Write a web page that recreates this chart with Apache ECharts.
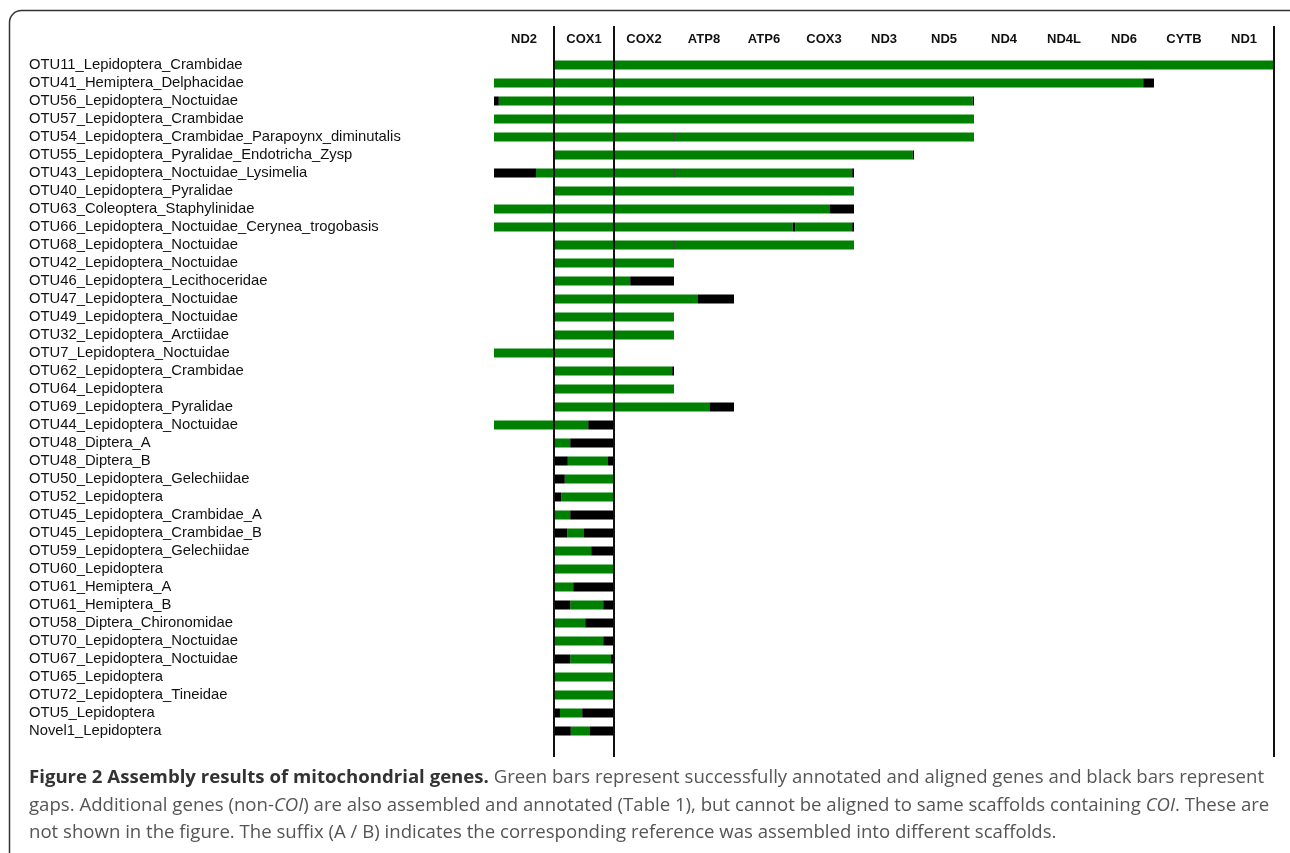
<!DOCTYPE html>
<html>
<head>
<meta charset="utf-8">
<title>Assembly results of mitochondrial genes</title>
<script src="https://cdn.jsdelivr.net/npm/echarts@6/dist/echarts.min.js"></script>
<style>
  html, body { margin: 0; padding: 0; background: #fff; }
  #main { width: 1290px; height: 853px; }
</style>
</head>
<body>
<div id="main"></div>
<script>
// gene order along the scaffold (one column each)
const genes = ['ND2', 'COX1', 'COX2', 'ATP8', 'ATP6', 'COX3', 'ND3', 'ND5', 'ND4', 'ND4L', 'ND6', 'CYTB', 'ND1'];

const otus = [
  'OTU11_Lepidoptera_Crambidae', 'OTU41_Hemiptera_Delphacidae', 'OTU56_Lepidoptera_Noctuidae',
  'OTU57_Lepidoptera_Crambidae', 'OTU54_Lepidoptera_Crambidae_Parapoynx_diminutalis',
  'OTU55_Lepidoptera_Pyralidae_Endotricha_Zysp', 'OTU43_Lepidoptera_Noctuidae_Lysimelia',
  'OTU40_Lepidoptera_Pyralidae', 'OTU63_Coleoptera_Staphylinidae',
  'OTU66_Lepidoptera_Noctuidae_Cerynea_trogobasis', 'OTU68_Lepidoptera_Noctuidae',
  'OTU42_Lepidoptera_Noctuidae', 'OTU46_Lepidoptera_Lecithoceridae', 'OTU47_Lepidoptera_Noctuidae',
  'OTU49_Lepidoptera_Noctuidae', 'OTU32_Lepidoptera_Arctiidae', 'OTU7_Lepidoptera_Noctuidae',
  'OTU62_Lepidoptera_Crambidae', 'OTU64_Lepidoptera', 'OTU69_Lepidoptera_Pyralidae',
  'OTU44_Lepidoptera_Noctuidae', 'OTU48_Diptera_A', 'OTU48_Diptera_B', 'OTU50_Lepidoptera_Gelechiidae',
  'OTU52_Lepidoptera', 'OTU45_Lepidoptera_Crambidae_A', 'OTU45_Lepidoptera_Crambidae_B',
  'OTU59_Lepidoptera_Gelechiidae', 'OTU60_Lepidoptera', 'OTU61_Hemiptera_A', 'OTU61_Hemiptera_B',
  'OTU58_Diptera_Chironomidae', 'OTU70_Lepidoptera_Noctuidae', 'OTU67_Lepidoptera_Noctuidae',
  'OTU65_Lepidoptera', 'OTU72_Lepidoptera_Tineidae', 'OTU5_Lepidoptera', 'Novel1_Lepidoptera'
];

// [row, start, end] in gene-column units (0 = start of ND2)
const aligned = [
  [0, 1, 13],
  [1, 0, 10.82],
  [2, 0.08, 7.98],
  [3, 0, 8],
  [4, 0, 2.99], [4, 3.01, 8],
  [5, 1, 6.98],
  [6, 0.7, 2.99], [6, 3.01, 5.97],
  [7, 1, 6],
  [8, 0, 5.6],
  [9, 0, 4.98], [9, 5.02, 5.97],
  [10, 1, 2.99], [10, 3.01, 6],
  [11, 1, 3],
  [12, 1, 2.27],
  [13, 1, 3.4],
  [14, 1, 3],
  [15, 1, 3],
  [16, 0, 2],
  [17, 1, 2.97],
  [18, 1, 3],
  [19, 1, 3.59],
  [20, 0, 1.57],
  [21, 1, 1.27],
  [22, 1.23, 1.9],
  [23, 1.18, 2],
  [24, 1.12, 2],
  [25, 1, 1.27],
  [26, 1.22, 1.5],
  [27, 1, 1.62],
  [28, 1, 2],
  [29, 1, 1.32],
  [30, 1.27, 1.82],
  [31, 1, 1.52],
  [32, 1, 1.82],
  [33, 1.27, 1.95],
  [34, 1, 2],
  [35, 1, 2],
  [36, 1.1, 1.47],
  [37, 1.28, 1.6]
];

const gaps = [
  [1, 10.82, 11],
  [2, 0, 0.08], [2, 7.98, 8],
  [4, 2.99, 3.01],
  [5, 6.98, 7],
  [6, 0, 0.7], [6, 2.99, 3.01], [6, 5.97, 6],
  [8, 5.6, 6],
  [9, 4.98, 5.02], [9, 5.97, 6],
  [10, 2.99, 3.01],
  [12, 2.27, 3],
  [13, 3.4, 4],
  [17, 2.97, 3],
  [19, 3.59, 4],
  [20, 1.57, 2],
  [21, 1.27, 2],
  [22, 1, 1.23], [22, 1.9, 2],
  [23, 1, 1.18],
  [24, 1, 1.12],
  [25, 1.27, 2],
  [26, 1, 1.22], [26, 1.5, 2],
  [27, 1.62, 2],
  [29, 1.32, 2],
  [30, 1, 1.27], [30, 1.82, 2],
  [31, 1.52, 2],
  [32, 1.82, 2],
  [33, 1, 1.27], [33, 1.95, 2],
  [36, 1, 1.1], [36, 1.47, 2],
  [37, 1, 1.28], [37, 1.6, 2]
];

// positions of the divider lines (COX1 borders and end of ND1)
const dividers = [1, 2, 13];

const chart = echarts.init(document.getElementById('main'));

function renderSeg(params, api) {
  const row = api.value(0);
  const p0 = api.coord([api.value(1), row]);
  const p1 = api.coord([api.value(2), row]);
  const h = 9;
  return {
    type: 'rect',
    shape: { x: p0[0], y: p0[1] - h / 2, width: p1[0] - p0[0], height: h },
    style: { fill: api.visual('color') }
  };
}

const option = {
  animation: false,
  backgroundColor: '#fff',
  grid: { left: 494, right: 16, top: 56, height: 684 },
  xAxis: [
    { type: 'value', min: 0, max: 13, show: false },
    {
      type: 'category',
      position: 'top',
      data: genes,
      boundaryGap: true,
      axisLine: { show: false },
      axisTick: { show: false },
      splitLine: { show: false },
      axisLabel: {
        interval: 0,
        margin: 10,
        fontSize: 13,
        fontWeight: 'bold',
        color: '#111',
        fontFamily: 'Liberation Sans, Arial, sans-serif'
      }
    }
  ],
  yAxis: {
    type: 'category',
    data: otus,
    inverse: true,
    axisLine: { show: false },
    axisTick: { show: false },
    splitLine: { show: false },
    axisLabel: {
      interval: 0,
      align: 'left',
      margin: 465,
      padding: [3, 0, 0, 0],
      fontSize: 14.8,
      color: '#111',
      fontFamily: 'Liberation Sans, Arial, sans-serif'
    }
  },
  series: [
    {
      name: 'Aligned',
      type: 'custom',
      renderItem: renderSeg,
      itemStyle: { color: '#008000' },
      encode: { x: [1, 2], y: 0 },
      data: aligned
    },
    {
      name: 'Gap',
      type: 'custom',
      renderItem: renderSeg,
      itemStyle: { color: '#000' },
      encode: { x: [1, 2], y: 0 },
      data: gaps
    }
  ]
};

chart.setOption(option);

// divider lines, border and caption
const lineEls = dividers.map(function (v) {
  const x = Math.round(chart.convertToPixel({ xAxisIndex: 0 }, v));
  return {
    type: 'line',
    shape: { x1: x, y1: 26, x2: x, y2: 757 },
    style: { stroke: '#111', lineWidth: 2 },
    z: 10
  };
});

const capFont = '"Open Sans", "DejaVu Sans", sans-serif';
const capSize = 18.6;
const capRich = {
  b: { fontFamily: capFont, fontSize: capSize, fontWeight: 'bold', fill: '#333' },
  t: { fontFamily: capFont, fontSize: capSize, fill: '#555' },
  i: { fontFamily: capFont, fontSize: capSize, fontStyle: 'italic', fill: '#555' }
};
const captionLines = [
  '{b|Figure 2 Assembly results of mitochondrial genes.}{t| Green bars represent successfully annotated and aligned genes and black bars represent}',
  '{t|gaps. Additional genes (non-}{i|COI}{t|) are also assembled and annotated (Table 1), but cannot be aligned to same scaffolds containing }{i|COI}{t|. These are}',
  '{t|not shown in the figure. The suffix (A / B) indicates the corresponding reference was assembled into different scaffolds.}'
];
const captionY = [778, 806, 833];

const textEls = captionLines.map(function (s, k) {
  return {
    type: 'text',
    left: 29,
    top: captionY[k] - 10,
    style: { text: s, rich: capRich, fontFamily: capFont, fontSize: capSize }
  };
});

chart.setOption({
  graphic: [
    {
      type: 'rect',
      shape: { x: 9.5, y: 10.5, width: 1300, height: 900, r: 12 },
      style: { fill: 'none', stroke: '#333', lineWidth: 1.5 },
      silent: true
    }
  ].concat(lineEls, textEls)
});
</script>
</body>
</html>
